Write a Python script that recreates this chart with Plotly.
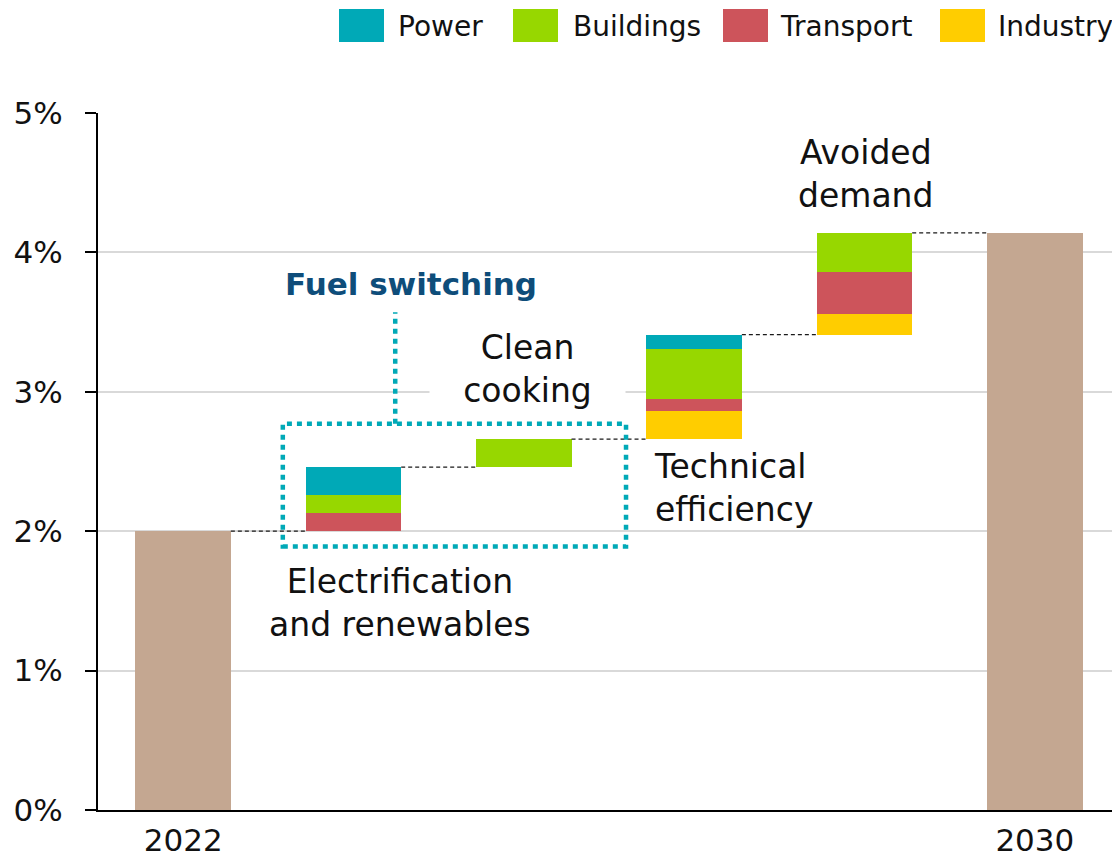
import plotly.graph_objects as go

# waterfall steps: 2022 level -> four levers -> 2030 level
categories = ["2022", "Electrification and renewables", "Clean cooking",
              "Technical efficiency", "Avoided demand", "2030"]
start_2022 = 2.0
sectors = ["Power", "Buildings", "Transport", "Industry"]
colors = {"Power": "#00A9B7", "Buildings": "#97D700", "Transport": "#CD545B",
          "Industry": "#FFCD00"}
total_color = "#C4A791"

# contributions per lever (percentage points), order = the four levers
industry = [0.00, 0.00, 0.20, 0.15]
transport = [0.13, 0.00, 0.09, 0.30]
buildings = [0.13, 0.20, 0.36, 0.28]
power = [0.20, 0.00, 0.10, 0.00]
steps = {"Industry": industry, "Transport": transport,
         "Buildings": buildings, "Power": power}

y_ticks = [0, 1, 2, 3, 4, 5]
y_ticktext = [f"{v}%" for v in y_ticks]

# cumulative levels
levels = [start_2022]
for i in range(len(industry)):
    levels.append(levels[-1] + industry[i] + transport[i] + buildings[i] + power[i])
end_2030 = levels[-1]

base = [0] + levels[:-1] + [0]
totals = [start_2022, 0, 0, 0, 0, end_2030]

FONT = "DejaVu Sans"
OFF = 8  # page body margin
W, H = 1120 - OFF, 859 - OFF
ML, MR, MT, MB = 98 - OFF, 0, 113 - OFF, 49
BAR_W = 0.56


def paper(px, py):
    # page pixel -> paper coords
    return ((px - OFF - ML) / (W - ML - MR),
            (H - MB - (py - OFF)) / (H - MT - MB))


fig = go.Figure()
fig.add_bar(x=categories, y=base, marker_color="rgba(0,0,0,0)",
            marker_line_width=0, hoverinfo="skip", showlegend=False,
            width=BAR_W)
fig.add_bar(x=categories, y=totals, marker_color=total_color,
            marker_line_width=0, showlegend=False, width=BAR_W)
for s in ["Industry", "Transport", "Buildings", "Power"]:
    fig.add_bar(x=categories, y=[0] + steps[s] + [0], name=s,
                marker_color=colors[s], marker_line_width=0,
                showlegend=False, width=BAR_W)

shapes = []
# dashed connectors between bars
for i in range(len(levels)):
    shapes.append(dict(type="line", xref="x", yref="y",
                       x0=i + BAR_W / 2, x1=i + 1 - BAR_W / 2,
                       y0=levels[i], y1=levels[i],
                       line=dict(color="#1a1a1a", width=1.2, dash="4px,3px")))

# fuel switching dotted box
dot = dict(color="#00A9B7", width=4.5, dash="5px,5px")
shapes.append(dict(type="rect", xref="x", yref="y", x0=0.585, x1=2.6,
                   y0=1.89, y1=2.77, line=dot))
shapes.append(dict(type="line", xref="x", yref="y", x0=1.245, x1=1.245,
                   y0=2.77, y1=3.57, line=dot))

annotations = [
    dict(x=1.34, y=3.77, text="<b>Fuel switching</b>", showarrow=False,
         font=dict(family=FONT, size=31, color="#0E4D7A")),
    dict(x=2.02, y=3.165, text="Clean<br>cooking", showarrow=False,
         bgcolor="white", width=195, borderpad=0,
         font=dict(family=FONT, size=33, color="#111111")),
    dict(x=2.754, y=2.31, text="Technical<br>efficiency", showarrow=False,
         xanchor="left", align="left",
         font=dict(family=FONT, size=33, color="#111111")),
    dict(x=4.005, y=4.56, text="Avoided<br>demand", showarrow=False,
         font=dict(family=FONT, size=33, color="#111111")),
    dict(x=1.274, y=1.485, text="Electrification<br>and renewables",
         showarrow=False, font=dict(family=FONT, size=33, color="#111111")),
]

# manual legend with large swatches
legend_items = [("Power", 339, 396), ("Buildings", 513, 571),
                ("Transport", 723, 778), ("Industry", 940, 996)]
for name, sx, tx in legend_items:
    x0, y0 = paper(sx, 42)
    x1, y1 = paper(sx + 45, 9)
    shapes.append(dict(type="rect", xref="paper", yref="paper",
                       x0=x0, x1=x1, y0=y0, y1=y1,
                       fillcolor=colors[name], line_width=0))
    ax, ay = paper(tx, 26)
    annotations.append(dict(x=ax, y=ay, xref="paper", yref="paper",
                            text=name, showarrow=False, xanchor="left",
                            yanchor="middle",
                            font=dict(family=FONT, size=28, color="#111111")))

fig.update_layout(
    barmode="stack",
    bargap=0,
    width=W, height=H,
    margin=dict(l=ML, r=MR, t=MT, b=MB, autoexpand=False),
    plot_bgcolor="white",
    paper_bgcolor="white",
    shapes=shapes,
    annotations=annotations,
    font=dict(family=FONT, color="#111111"),
)
fig.update_xaxes(
    tickvals=["2022", "2030"], ticks="", showline=True, linecolor="black",
    linewidth=2, tickfont=dict(size=31), showgrid=False,
    range=[-0.5, 5.5], ticklabelstandoff=2, automargin=False,
)
fig.update_yaxes(
    range=[0, 5], tickvals=y_ticks, ticktext=y_ticktext,
    showline=True, linecolor="black", linewidth=2,
    ticks="outside", ticklen=11, tickwidth=2, tickcolor="black",
    showgrid=True, gridcolor="#D9D9D9", gridwidth=1.5,
    tickfont=dict(size=31), ticklabelstandoff=16, zeroline=False,
    automargin=False,
)

fig.write_html("out.html")
